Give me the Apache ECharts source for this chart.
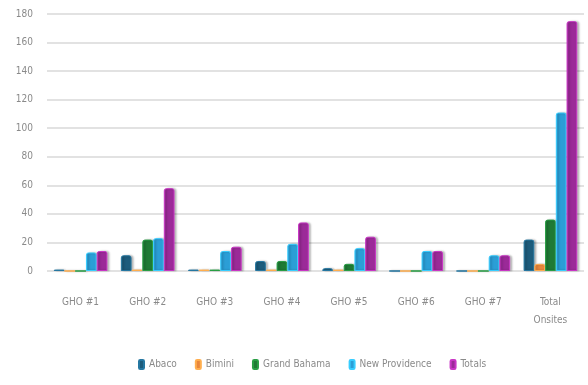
<!DOCTYPE html>
<html>
<head>
<meta charset="utf-8">
<script src="https://cdn.jsdelivr.net/npm/echarts@6/dist/echarts.min.js"></script>
<style>
  html, body { margin: 0; padding: 0; background: #fff; }
  #chart { width: 588px; height: 385px; }
</style>
</head>
<body>
<div id="chart"></div>
<script>
// Onsite counts per GHO event and island
const categories = ['GHO #1', 'GHO #2', 'GHO #3', 'GHO #4', 'GHO #5', 'GHO #6', 'GHO #7', 'Total\nOnsites'];
const abaco          = [1, 11, 1, 7, 2, 0, 0, 22];
const bimini         = [0, 1, 1, 1, 1, 0, 0, 5];
const grandBahama    = [0, 22, 1, 7, 5, 0, 0, 36];
const newProvidence  = [13, 23, 14, 19, 16, 14, 11, 111];
const totals         = [14, 58, 17, 34, 24, 14, 11, 175];
const yTicks = { min: 0, max: 180, interval: 20 };

const seriesDefs = [
  { name: 'Abaco', data: abaco, color: '#1d5c7c' },
  { name: 'Bimini', data: bimini, color: '#e8863c' },
  { name: 'Grand Bahama', data: grandBahama, color: '#1f7a35' },
  { name: 'New Providence', data: newProvidence, color: '#2b9ed6' },
  { name: 'Totals', data: totals, color: '#9b2a98' }
];

const chart = echarts.init(document.getElementById('chart'));
chart.setOption({
  animation: false,
  textStyle: { fontFamily: 'DejaVu Sans Condensed, Liberation Sans Narrow, sans-serif' },
  grid: { left: 47, right: 4, top: 14, bottom: 114 },
  legend: {
    bottom: 10,
    left: 133,
    itemWidth: 5,
    itemHeight: 9,
    itemGap: 18,
    textStyle: { color: '#8a8a8a', fontSize: 10 },
    data: seriesDefs.map(s => s.name)
  },
  xAxis: {
    type: 'category',
    data: categories,
    axisLine: { show: false },
    axisTick: { show: false },
    axisLabel: { color: '#8a8a8a', fontSize: 10, margin: 22, lineHeight: 18 }
  },
  yAxis: {
    type: 'value',
    min: yTicks.min,
    max: yTicks.max,
    interval: yTicks.interval,
    axisLine: { show: false },
    axisTick: { show: false },
    axisLabel: { color: '#8a8a8a', fontSize: 10, margin: 14 },
    splitLine: { lineStyle: { color: '#e2e2e2', width: 2 } }
  },
  series: seriesDefs.map(s => ({
    name: s.name,
    type: 'bar',
    data: s.data,
    barGap: '0%',
    barCategoryGap: '20%',
    itemStyle: {
      color: s.color,
      borderColor: echarts.color.lift(s.color, -0.3),
      borderWidth: 1,
      borderRadius: [2, 2, 0, 0],
      shadowColor: 'rgba(0,0,0,0.25)',
      shadowOffsetX: 2,
      shadowBlur: 2
    }
  }))
});
</script>
</body>
</html>
